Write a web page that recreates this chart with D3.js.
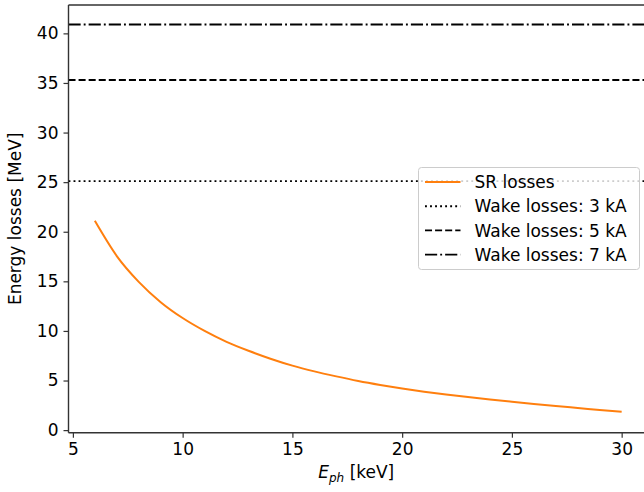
<!DOCTYPE html>
<html>
<head>
<meta charset="utf-8">
<script src="https://cdn.jsdelivr.net/npm/d3@7"></script>
<style>
  body { margin: 0; background: #fff; }
  svg text { font-family: "DejaVu Sans", sans-serif; fill: #000; }
</style>
</head>
<body>
<svg id="chart" width="644" height="492"></svg>
<script>
// Data
var energy = [6, 7, 8, 9, 10, 11, 12, 13, 14, 15, 16, 17, 18, 19, 20, 21, 22, 23, 24, 25, 26, 27, 28, 29, 30];
var srLoss = [21.1, 17.55, 14.95, 12.9, 11.3, 10.0, 8.9, 8.0, 7.2, 6.5, 5.92, 5.42, 4.96, 4.56, 4.2, 3.88, 3.59, 3.33, 3.09, 2.86, 2.64, 2.43, 2.23, 2.03, 1.84];
var wakeLabels = ["Wake losses: 3 kA", "Wake losses: 5 kA", "Wake losses: 7 kA"];
var wakeLoss = [25.1, 35.3, 40.9];
var xTicks = [5, 10, 15, 20, 25, 30];
var yTicks = [0, 5, 10, 15, 20, 25, 30, 35, 40];

var svg = d3.select("#chart");

// plot area (the right spine falls just outside the picture, as in the reference)
var pLeft = 68.5, pRight = 648, pTop = 5, pBottom = 432.7;
var fontSize = "17px";

var x = d3.scaleLinear().domain([4.8, 31.2]).range([pLeft, pRight]);
var y = d3.scaleLinear().domain([-0.26, 42.86]).range([pBottom, pTop]);

var lw = 1.9;
var dashes = {
  dotted: [1 * lw, 1.65 * lw],
  dashed: [3.7 * lw, 1.6 * lw],
  dashdot: [6.4 * lw, 1.6 * lw, 1 * lw, 1.6 * lw]
};
var wakeStyles = ["dotted", "dashed", "dashdot"];

var plot = svg.append("g");

// horizontal wake lines
plot.selectAll(".wake")
  .data(wakeLoss)
  .enter().append("line")
  .attr("class", "wake")
  .attr("x1", pLeft).attr("x2", pRight)
  .attr("y1", function(d) { return y(d); })
  .attr("y2", function(d) { return y(d); })
  .attr("stroke", "#000")
  .attr("stroke-width", lw)
  .attr("stroke-dasharray", function(d, i) { return dashes[wakeStyles[i]].join(","); });

// SR losses curve
var line = d3.line()
  .x(function(d, i) { return x(energy[i]); })
  .y(function(d) { return y(d); })
  .curve(d3.curveMonotoneX);

plot.append("path")
  .datum(srLoss)
  .attr("fill", "none")
  .attr("stroke", "#ff7f0e")
  .attr("stroke-width", 2)
  .attr("d", line);

// axes
var xAxis = svg.append("g")
  .attr("transform", "translate(0," + pBottom + ")")
  .call(d3.axisBottom(x).tickValues(xTicks).tickSize(5).tickPadding(5).tickFormat(d3.format("d")));

var yAxis = svg.append("g")
  .attr("transform", "translate(" + pLeft + ",0)")
  .call(d3.axisLeft(y).tickValues(yTicks).tickSize(5).tickPadding(5).tickFormat(d3.format("d")));

[xAxis, yAxis].forEach(function(ax) {
  ax.select(".domain").remove();
  ax.selectAll(".tick line").attr("stroke", "#333").attr("stroke-width", 1.2);
  ax.selectAll(".tick text").style("font-size", fontSize).style("font-family", "DejaVu Sans");
});

// spines
svg.append("line").attr("x1", pLeft).attr("x2", pLeft).attr("y1", pTop).attr("y2", pBottom)
  .attr("stroke", "#333").attr("stroke-width", 1.4);
svg.append("line").attr("x1", pLeft).attr("x2", pRight).attr("y1", pBottom).attr("y2", pBottom)
  .attr("stroke", "#333").attr("stroke-width", 1.4);
svg.append("line").attr("x1", pLeft).attr("x2", pRight).attr("y1", pTop).attr("y2", pTop)
  .attr("stroke", "#333").attr("stroke-width", 1.4);

// axis labels
svg.append("text")
  .attr("transform", "translate(21," + ((pTop + pBottom) / 2) + ") rotate(-90)")
  .attr("text-anchor", "middle")
  .style("font-size", fontSize)
  .text("Energy losses [MeV]");

var xl = svg.append("text")
  .attr("x", (pLeft + pRight) / 2 - 2)
  .attr("y", 478)
  .attr("text-anchor", "middle")
  .style("font-size", fontSize);
xl.append("tspan").style("font-style", "italic").text("E");
xl.append("tspan").style("font-style", "italic").style("font-size", "12px").attr("dy", 3.5).text("ph");
xl.append("tspan").attr("dy", -3.5).text(" [keV]");

// legend
var legX = 418.5, legY = 167.5, legW = 221, legH = 102;
var legend = svg.append("g");
legend.append("rect")
  .attr("x", legX).attr("y", legY).attr("width", legW).attr("height", legH)
  .attr("rx", 3)
  .attr("fill", "#fff").attr("fill-opacity", 0.8)
  .attr("stroke", "#ccc").attr("stroke-width", 1);

var legItems = [{label: "SR losses", color: "#ff7f0e", dash: null}].concat(
  wakeLabels.map(function(l, i) { return {label: l, color: "#000", dash: dashes[wakeStyles[i]]}; })
);

var rows = legend.selectAll(".row")
  .data(legItems)
  .enter().append("g")
  .attr("transform", function(d, i) { return "translate(0," + (legY + 14.5 + i * 24.2) + ")"; });

rows.append("line")
  .attr("x1", legX + 6.5).attr("x2", legX + 42)
  .attr("stroke", function(d) { return d.color; })
  .attr("stroke-width", function(d) { return d.dash ? lw : 2; })
  .attr("stroke-dasharray", function(d) { return d.dash ? d.dash.join(",") : null; });

rows.append("text")
  .attr("x", legX + 56)
  .attr("dy", "0.36em")
  .style("font-size", fontSize)
  .text(function(d) { return d.label; });
</script>
</body>
</html>
